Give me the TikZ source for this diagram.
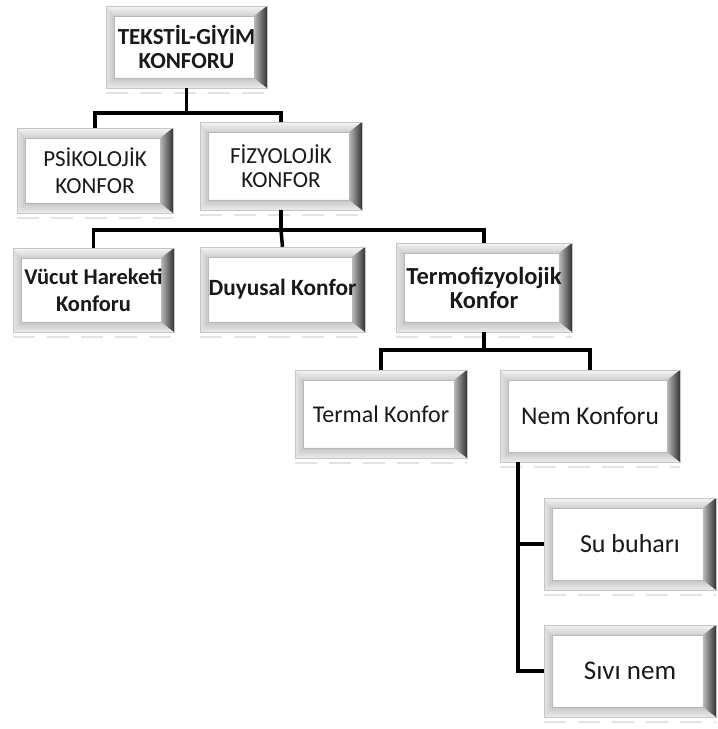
\documentclass[tikz,border=0pt]{standalone}
\usepackage{fontspec}
\setmainfont{Carlito}
\usetikzlibrary{calc}
\begin{document}
\begin{tikzpicture}[x=1pt,y=1pt,
  bevbox/.style={draw=gray!45, line width=0.4pt, fill=white, inner sep=0pt, align=center, text=black!90,
    path picture={
      \coordinate (pSW) at (path picture bounding box.south west);
      \coordinate (pNE) at (path picture bounding box.north east);
      \coordinate (pNW) at (pSW|-pNE);
      \coordinate (pSE) at (pNE|-pSW);
      \coordinate (iSW) at ($(pSW)+(8,10)$);
      \coordinate (iNE) at ($(pNE)+(-13,-10)$);
      \coordinate (iNW) at (iSW|-iNE);
      \coordinate (iSE) at (iNE|-iSW);
      \shade[top color=gray!8, bottom color=gray!38] (pNW) -- (pNE) -- (iNE) -- (iNW) -- cycle;
      \shade[left color=gray!20, right color=gray!45] (pSW) -- (pNW) -- (iNW) -- (iSW) -- cycle;
      \shade[top color=gray!45, bottom color=gray!15] (pSW) -- (pSE) -- (iSE) -- (iSW) -- cycle;
      \shade[left color=gray!55, right color=black!80] (pSE) -- (pNE) -- (iNE) -- (iSE) -- cycle;
      \draw[gray!55, line width=0.6pt] (iSW) rectangle (iNE);
    }},
  rg/.style n args={2}{font=\fontsize{#1}{#2}\selectfont},
  bd/.style n args={2}{font=\fontsize{#1}{#2}\selectfont\bfseries},
  link/.style={line width=3.5pt, black},
  reflect/.style={gray!22, line width=2pt, dash pattern=on 22pt off 12pt}
]
\useasboundingbox (0,0) rectangle (718,729);

\node[bevbox, bd={23}{24}, minimum width=161, minimum height=82] (top) at (186.5,682) {TEKSTİL-GİYİM\\KONFORU};
\node[bevbox, rg={23}{27}, minimum width=156, minimum height=85] (psik) at (95,558.5) {PSİKOLOJİK\\KONFOR};
\node[bevbox, rg={23}{24}, minimum width=162, minimum height=88] (fiz) at (281,563) {FİZYOLOJİK\\KONFOR};
\node[bevbox, bd={22.5}{27}, minimum width=161, minimum height=84] (vucut) at (93.5,439) {Vücut Hareketi\\Konforu};
\node[bevbox, bd={23.3}{27}, minimum width=165, minimum height=85] (duy) at (282.5,439.5) {Duyusal Konfor};
\node[bevbox, bd={24.5}{24}, minimum width=176, minimum height=89] (termo) at (484,441.5) {Termofizyolojik\\Konfor};
\node[bevbox, rg={24}{27}, minimum width=172, minimum height=88] (termal) at (381,315) {Termal Konfor};
\node[bevbox, rg={25.5}{27}, minimum width=180, minimum height=92] (nem) at (590,313) {Nem Konforu};
\node[bevbox, rg={26}{27}, minimum width=172, minimum height=92] (su) at (630,185) {Su buharı};
\node[bevbox, rg={27}{27}, minimum width=172, minimum height=92] (sivi) at (630,58) {Sıvı nem};

\foreach \n in {top,psik,fiz,vucut,duy,termo,termal,nem,su,sivi}
  \draw[reflect] ([yshift=-5pt]\n.south west) -- ([yshift=-5pt]\n.south east);

\coordinate (j1) at (186.5,616);
\draw[link] (top.south) -- (j1);
\draw[link] (psik.north) |- (j1 -| fiz.north) -- (fiz.north);

\coordinate (j2) at (281,499);
\draw[link] (fiz.south) -- (j2);
\draw[link] (vucut.north) |- (j2 -| termo.north) -- (termo.north);
\draw[link] (j2) -- (duy.north);

\coordinate (j3) at (484,379);
\draw[link] (termo.south) -- (j3);
\draw[link] (termal.north) |- (j3 -| nem.north) -- (nem.north);

\coordinate (j4) at ([xshift=18pt]nem.south west);
\draw[link] (j4) |- (sivi.west);
\draw[link] (j4 |- su.west) -- (su.west);
\end{tikzpicture}
\end{document}
